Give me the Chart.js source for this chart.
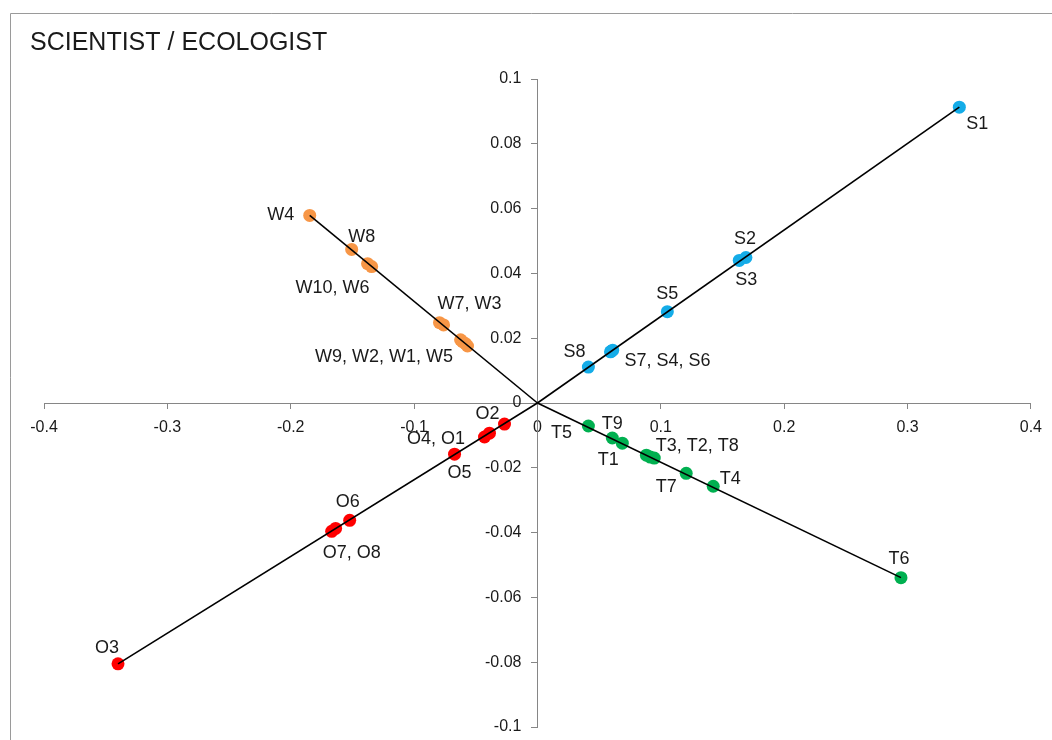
<!DOCTYPE html>
<html>
<head>
<meta charset="utf-8">
<title>SCIENTIST / ECOLOGIST</title>
<script src="https://cdn.jsdelivr.net/npm/chart.js@4.4.1/dist/chart.umd.min.js"></script>
<style>
  html, body { margin: 0; padding: 0; background: #ffffff; }
  #wrap { width: 1052px; height: 740px; position: relative; }
</style>
</head>
<body>
<div id="wrap"><canvas id="c" width="1052" height="740"></canvas></div>
<script>
// Point names and coordinates for each group
const sciNames = ['S1', 'S2', 'S3', 'S5', 'S7', 'S4', 'S6', 'S8'];
const sciX = [0.342, 0.169, 0.1636, 0.1053, 0.061, 0.0600, 0.0592, 0.0413];
const sciY = [0.0913, 0.0449, 0.0440, 0.0282, 0.0163, 0.0160, 0.0158, 0.0111];

const wrkNames = ['W4', 'W8', 'W10', 'W6', 'W7', 'W3', 'W9', 'W2', 'W1', 'W5'];
const wrkX = [-0.1846, -0.1506, -0.1377, -0.1344, -0.0794, -0.0761, -0.0623, -0.0607, -0.0583, -0.0567];
const wrkY = [0.0579, 0.0474, 0.0430, 0.0421, 0.0248, 0.0241, 0.0195, 0.0189, 0.0183, 0.0176];

const othNames = ['O3', 'O7', 'O8', 'O6', 'O5', 'O4', 'O1', 'O2'];
const othX = [-0.340, -0.1668, -0.1636, -0.1522, -0.0672, -0.0429, -0.0389, -0.0267];
const othY = [-0.0805, -0.0396, -0.0387, -0.0362, -0.0158, -0.0105, -0.0093, -0.0065];

const teaNames = ['T6', 'T4', 'T7', 'T8', 'T2', 'T3', 'T1', 'T9', 'T5'];
const teaX = [0.2947, 0.1425, 0.1206, 0.0947, 0.0915, 0.0883, 0.0688, 0.0607, 0.0413];
const teaY = [-0.0539, -0.0257, -0.0217, -0.0170, -0.0167, -0.0161, -0.0124, -0.0108, -0.0071];

// Axis tick labels
const xTickLabels = ['-0.4', '-0.3', '-0.2', '-0.1', '0', '0.1', '0.2', '0.3', '0.4'];
const yTickLabels = ['-0.1', '-0.08', '-0.06', '-0.04', '-0.02', '0', '0.02', '0.04', '0.06', '0.08', '0.1'];

// Label texts and the points they belong to
const pointLabels = [
  { text: 'S1', of: ['S1'] },
  { text: 'S2', of: ['S2'] },
  { text: 'S3', of: ['S3'] },
  { text: 'S5', of: ['S5'] },
  { text: 'S8', of: ['S8'] },
  { text: 'S7, S4, S6', of: ['S7', 'S4', 'S6'] },
  { text: 'W4', of: ['W4'] },
  { text: 'W8', of: ['W8'] },
  { text: 'W10, W6', of: ['W10', 'W6'] },
  { text: 'W7, W3', of: ['W7', 'W3'] },
  { text: 'W9, W2, W1, W5', of: ['W9', 'W2', 'W1', 'W5'] },
  { text: 'O2', of: ['O2'] },
  { text: 'O4, O1', of: ['O4', 'O1'] },
  { text: 'O5', of: ['O5'] },
  { text: 'O6', of: ['O6'] },
  { text: 'O7, O8', of: ['O7', 'O8'] },
  { text: 'O3', of: ['O3'] },
  { text: 'T5', of: ['T5'] },
  { text: 'T9', of: ['T9'] },
  { text: 'T1', of: ['T1'] },
  { text: 'T3, T2, T8', of: ['T3', 'T2', 'T8'] },
  { text: 'T7', of: ['T7'] },
  { text: 'T4', of: ['T4'] },
  { text: 'T6', of: ['T6'] }
];

// Where each label sits relative to its point(s), in pixels
const labelOffsets = {
  'S1': [18, 17], 'S2': [-1, -18], 'S3': [7, 20], 'S5': [0, -18], 'S8': [-14, -15],
  'S7, S4, S6': [56, 10],
  'W4': [-29, 0], 'W8': [10, -12], 'W10, W6': [-37, 23], 'W7, W3': [28, -20],
  'W9, W2, W1, W5': [-80, 14],
  'O2': [-17, -10], 'O4, O1': [-51, 4], 'O5': [5, 19], 'O6': [-2, -18],
  'O7, O8': [18, 23], 'O3': [-11, -16],
  'T5': [-27, 7], 'T9': [0, -14], 'T1': [-14, 17], 'T3, T2, T8': [47, -11],
  'T7': [-20, 14], 'T4': [17, -7], 'T6': [-2, -19]
};

const FONT = '"Liberation Sans", Arial, sans-serif';
const AXIS_GREY = '#868686';
const TEXT_COLOR = '#1a1a1a';

function toPoints(xs, ys) {
  return xs.map((x, i) => ({ x: x, y: ys[i] }));
}
// A segment from the origin to the point of the group farthest from it
function rayTo(xs, ys) {
  let best = 0;
  xs.forEach((x, i) => {
    if (Math.hypot(x, ys[i]) > Math.hypot(xs[best], ys[best])) best = i;
  });
  return [{ x: 0, y: 0 }, { x: xs[best], y: ys[best] }];
}

const groups = [
  { names: sciNames, xs: sciX, ys: sciY, color: '#14ACE8' },
  { names: wrkNames, xs: wrkX, ys: wrkY, color: '#F79646' },
  { names: othNames, xs: othX, ys: othY, color: '#FF0000' },
  { names: teaNames, xs: teaX, ys: teaY, color: '#00B050' }
];

const datasets = [];
groups.forEach(g => {
  datasets.push({
    data: toPoints(g.xs, g.ys),
    backgroundColor: g.color,
    borderWidth: 0,
    pointRadius: 6.5,
    pointHoverRadius: 6.5,
    order: 2
  });
});
groups.forEach(g => {
  datasets.push({
    data: rayTo(g.xs, g.ys),
    showLine: true,
    borderColor: '#000000',
    borderWidth: 1.6,
    pointRadius: 0,
    fill: false,
    order: 1
  });
});

// Title, outer frame, y tick labels (left of the centred axis) and point labels
const decorations = {
  id: 'decorations',
  beforeDraw(chart) {
    const ctx = chart.ctx;
    ctx.save();
    ctx.strokeStyle = '#9a9a9a';
    ctx.lineWidth = 1;
    ctx.beginPath();
    ctx.moveTo(10.5, 760);
    ctx.lineTo(10.5, 13.5);
    ctx.lineTo(1060, 13.5);
    ctx.stroke();
    ctx.fillStyle = TEXT_COLOR;
    ctx.font = '25px ' + FONT;
    ctx.textAlign = 'left';
    ctx.textBaseline = 'alphabetic';
    ctx.fillText('SCIENTIST / ECOLOGIST', 30, 50);
    ctx.restore();
  },
  afterDatasetsDraw(chart) {
    const ctx = chart.ctx;
    const sx = chart.scales.x, sy = chart.scales.y;
    ctx.save();
    ctx.fillStyle = TEXT_COLOR;

    // y-axis tick labels
    ctx.font = '16px ' + FONT;
    ctx.textAlign = 'right';
    ctx.textBaseline = 'middle';
    const axisX = sx.getPixelForValue(0);
    sy.ticks.forEach((t, i) => {
      ctx.fillText(yTickLabels[i], axisX - 16, sy.getPixelForTick(i));
    });

    // point labels
    const lookup = {};
    groups.forEach(g => g.names.forEach((n, i) => { lookup[n] = [g.xs[i], g.ys[i]]; }));
    ctx.font = '18px ' + FONT;
    ctx.textAlign = 'center';
    pointLabels.forEach(l => {
      let px = 0, py = 0;
      l.of.forEach(n => {
        px += sx.getPixelForValue(lookup[n][0]);
        py += sy.getPixelForValue(lookup[n][1]);
      });
      px /= l.of.length; py /= l.of.length;
      const off = labelOffsets[l.text] || [0, 0];
      ctx.fillText(l.text, px + off[0], py + off[1]);
    });
    ctx.restore();
  }
};

new Chart(document.getElementById('c'), {
  type: 'scatter',
  data: { datasets: datasets },
  options: {
    responsive: false,
    animation: false,
    events: [],
    layout: { padding: { left: 44, right: 15, top: 79, bottom: 13 } },
    plugins: { legend: { display: false }, tooltip: { enabled: false }, title: { display: false } },
    scales: {
      x: {
        type: 'linear',
        position: { y: 0 },
        min: -0.4, max: 0.4,
        border: { display: true, color: AXIS_GREY, width: 1 },
        grid: { display: true, drawOnChartArea: false, drawTicks: true, tickLength: 5, color: AXIS_GREY },
        ticks: {
          stepSize: 0.1,
          padding: 10,
          color: TEXT_COLOR,
          font: { family: FONT, size: 16 },
          maxRotation: 0,
          autoSkip: false,
          callback: (v, i) => xTickLabels[i]
        }
      },
      y: {
        type: 'linear',
        position: { x: 0 },
        min: -0.1, max: 0.1,
        border: { display: true, color: AXIS_GREY, width: 1 },
        grid: { display: true, drawOnChartArea: false, drawTicks: true, tickLength: 6, color: AXIS_GREY },
        ticks: {
          stepSize: 0.02,
          display: false,
          autoSkip: false
        }
      }
    }
  },
  plugins: [decorations]
});
</script>
</body>
</html>
